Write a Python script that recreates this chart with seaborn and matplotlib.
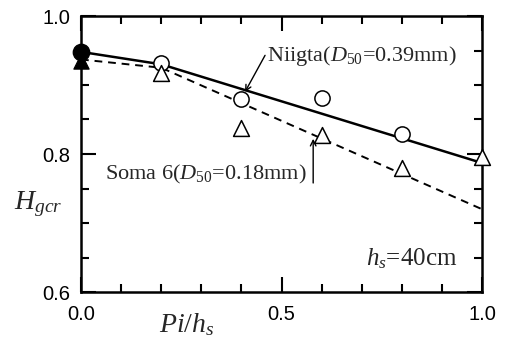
import matplotlib
matplotlib.use("Agg")
import matplotlib.pyplot as plt
import seaborn as sns
from matplotlib.ticker import MultipleLocator

# Data
niigata_x = [0.2, 0.4, 0.6, 0.8]
niigata_y = [0.932, 0.880, 0.881, 0.829]
soma_x = [0.2, 0.4, 0.6, 0.8, 1.0]
soma_y = [0.918, 0.838, 0.827, 0.780, 0.796]
niigata0_x = [0.0]
niigata0_y = [0.948]
soma0_x = [0.0]
soma0_y = [0.935]
niigata_line_x = [0.0, 0.2, 1.0]
niigata_line_y = [0.948, 0.930, 0.787]
soma_line_x = [0.0, 0.2, 1.0]
soma_line_y = [0.937, 0.925, 0.720]
xticks = [0.0, 0.5, 1.0]
xticklabels = ["0.0", "0.5", "1.0"]
yticks = [0.6, 0.8, 1.0]
yticklabels = ["0.6", "0.8", "1.0"]

sns.set_style("ticks")
plt.rcParams["font.family"] = ["Liberation Serif", "DejaVu Serif"]
plt.rcParams["mathtext.fontset"] = "custom"
plt.rcParams["mathtext.rm"] = "Liberation Serif"
plt.rcParams["mathtext.it"] = "Liberation Serif:italic"

fig = plt.figure(figsize=(5.08, 3.38), dpi=100)
ax = fig.add_axes([81/508, 1-292/338, (482-81)/508, (292-16)/338])

sns.lineplot(x=niigata_line_x, y=niigata_line_y, ax=ax, color="black", lw=1.8, estimator=None, sort=False)
sns.lineplot(x=soma_line_x, y=soma_line_y, ax=ax, color="black", lw=1.4, estimator=None, sort=False,
             linestyle=(0, (4, 3)))
sns.scatterplot(x=niigata_x, y=niigata_y, ax=ax, marker="o", s=120, facecolor="white",
                edgecolor="black", linewidth=1.1, zorder=5, clip_on=False)
sns.scatterplot(x=soma_x, y=soma_y, ax=ax, marker="^", s=130, facecolor="white",
                edgecolor="black", linewidth=1.1, zorder=5, clip_on=False)
sns.scatterplot(x=soma0_x, y=soma0_y, ax=ax, marker="^", s=120, color="black",
                edgecolor="black", zorder=6, clip_on=False)
sns.scatterplot(x=niigata0_x, y=niigata0_y, ax=ax, marker="o", s=140, color="black",
                edgecolor="black", zorder=6, clip_on=False)

ax.set_xlim(0, 1.0)
ax.set_ylim(0.6, 1.0)
ax.set_xticks(xticks)
ax.set_yticks(yticks)
ax.set_xticklabels(xticklabels, family="Liberation Sans", fontsize=14.5)
ax.set_yticklabels(yticklabels, family="Liberation Sans", fontsize=14.5)
ax.xaxis.set_minor_locator(MultipleLocator(0.1))
ax.yaxis.set_minor_locator(MultipleLocator(0.05))
ax.tick_params(which="both", direction="in", top=True, right=True, width=1.5, colors="black")
ax.tick_params(axis="x", which="major", length=11, pad=9)
ax.tick_params(axis="y", which="major", length=11, pad=8)
ax.tick_params(which="minor", length=6)
for s in ax.spines.values():
    s.set_linewidth(1.8)
    s.set_color("black")

ax.text(0.264, -0.12, r"$Pi/h_s$", fontsize=20, ha="center", va="center", transform=ax.transAxes)
ax.text(-0.107, 0.319, r"$H_{gcr}$", fontsize=20, ha="center", va="center", transform=ax.transAxes)

ax.annotate("", xy=(0.409, 0.890), xytext=(0.459, 0.943),
            arrowprops=dict(arrowstyle="->", color="black", lw=1.0, shrinkA=0, shrinkB=0))
ax.text(0.465, 0.942, r"Niigta($D_{50}$=0.39mm)", fontsize=16, ha="left", va="center")

ax.text(0.06, 0.771, r"Soma 6($D_{50}$=0.18mm)", fontsize=16, ha="left", va="center")
ax.annotate("", xy=(0.579, 0.822), xytext=(0.579, 0.758),
            arrowprops=dict(arrowstyle="->", color="black", lw=1.0, shrinkA=0, shrinkB=0))

ax.text(0.711, 0.648, r"$h_s$=40cm", fontsize=18, ha="left", va="center")

fig.savefig("out.png", dpi=100)
